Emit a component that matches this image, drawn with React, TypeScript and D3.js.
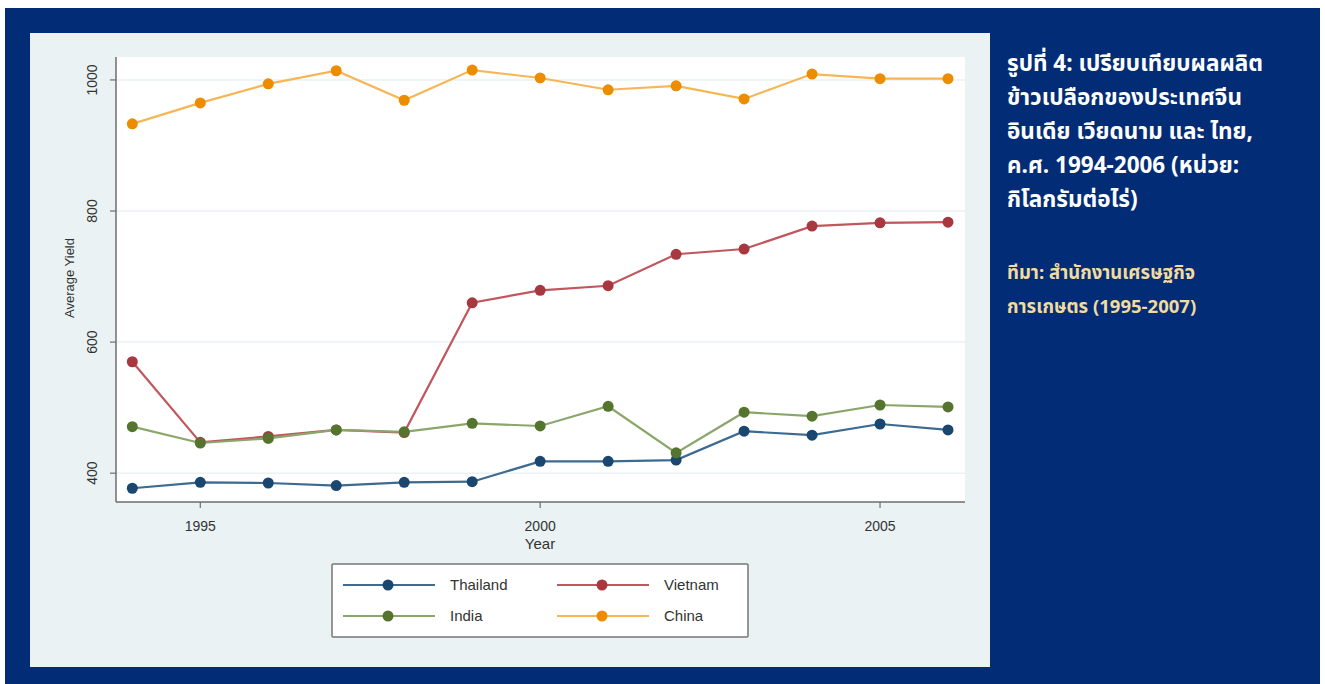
import React, { useEffect } from 'react';
import * as d3 from 'd3';

// values (kg per rai)
const years = [1994, 1995, 1996, 1997, 1998, 1999, 2000, 2001, 2002, 2003, 2004, 2005, 2006];
const thailand = [377, 386, 385, 381, 386, 387, 418, 418, 420, 464, 458, 475, 466];
const vietnam = [570, 447, 456, 466, 462, 660, 679, 686, 734, 742, 777, 782, 783];
const india = [471, 446, 453, 466, 463, 476, 472, 502, 431, 493, 487, 504, 501];
const china = [933, 965, 994, 1014, 969, 1015, 1003, 985, 991, 971, 1009, 1002, 1002];

const yTicks = [400, 600, 800, 1000];
const xTicks = [1995, 2000, 2005];

const titleLines = [
  'รูปที่ 4: เปรียบเทียบผลผลิต',
  'ข้าวเปลือกของประเทศจีน',
  'อินเดีย เวียดนาม และ ไทย,',
  'ค.ศ. 1994-2006 (หน่วย:',
  'กิโลกรัมต่อไร่)',
];
const sourceLines = ['ทีมา: สำนักงานเศรษฐกิจ', 'การเกษตร (1995-2007)'];

const series = [
  { name: 'Thailand', values: thailand, color: '#1a476f', line: '#3d6a90' },
  { name: 'Vietnam', values: vietnam, color: '#a8383f', line: '#c0575d' },
  { name: 'India', values: india, color: '#55752f', line: '#8aa66a' },
  { name: 'China', values: china, color: '#ee8c00', line: '#f6b655' },
];

const W = 1325;
const H = 684;
const plot = { left: 116, right: 965, top: 57, bottom: 502 };
const chartFont = '"Liberation Sans", Arial, sans-serif';
const thaiFont = '"Noto Sans Thai", "Noto Sans", "Liberation Sans", sans-serif';

export default function App() {
  useEffect(() => {
    document.body.style.margin = '0';
  }, []);

  const x = d3.scaleLinear().domain([1993.76, 2006.25]).range([plot.left, plot.right]);
  const y = d3.scaleLinear().domain([356, 1035]).range([plot.bottom, plot.top]);

  const line = d3
    .line<number>()
    .x((d, i) => x(years[i]))
    .y(d => y(d));

  // legend layout: two columns, two rows
  const legendCells = series.map((s, i) => ({
    ...s,
    lx: i % 2 === 0 ? 343 : 557,
    ly: i < 2 ? 585 : 616,
  }));

  return (
    <svg width={W} height={H} style={{ display: 'block' }}>
      <rect x={0} y={0} width={W} height={H} fill="#ffffff" />
      <rect x={5} y={8} width={1315} height={676} fill="#022c76" />
      <rect x={30} y={33} width={960} height={634} fill="#eaf2f3" />
      <rect x={plot.left} y={plot.top} width={plot.right - plot.left} height={plot.bottom - plot.top} fill="#ffffff" />

      {/* gridlines */}
      {yTicks.map(t => (
        <line key={t} x1={plot.left} x2={plot.right} y1={y(t)} y2={y(t)} stroke="#eaf2f3" strokeWidth={1.5} />
      ))}

      {/* axes */}
      <line x1={plot.left} x2={plot.left} y1={plot.top} y2={plot.bottom} stroke="#6e6e6e" strokeWidth={1.5} />
      <line x1={plot.left} x2={plot.right} y1={plot.bottom} y2={plot.bottom} stroke="#6e6e6e" strokeWidth={1.5} />
      {yTicks.map(t => (
        <g key={t}>
          <line x1={plot.left - 6} x2={plot.left} y1={y(t)} y2={y(t)} stroke="#6e6e6e" strokeWidth={1.2} />
          <text
            transform={`translate(${97},${y(t)}) rotate(-90)`}
            textAnchor="middle"
            fontFamily={chartFont}
            fontSize={14}
            fill="#333"
          >
            {t}
          </text>
        </g>
      ))}
      {xTicks.map(t => (
        <g key={t}>
          <line x1={x(t)} x2={x(t)} y1={plot.bottom} y2={plot.bottom + 6} stroke="#6e6e6e" strokeWidth={1.2} />
          <text x={x(t)} y={531} textAnchor="middle" fontFamily={chartFont} fontSize={14} fill="#333">
            {t}
          </text>
        </g>
      ))}
      <text x={540} y={549} textAnchor="middle" fontFamily={chartFont} fontSize={15} fill="#333">
        Year
      </text>
      <text
        transform={`translate(${74},${278}) rotate(-90)`}
        textAnchor="middle"
        fontFamily={chartFont}
        fontSize={13}
        fill="#333"
      >
        Average Yield
      </text>

      {/* series */}
      {series.map(s => (
        <g key={s.name}>
          <path d={line(s.values) || ''} fill="none" stroke={s.line} strokeWidth={2.2} />
          {s.values.map((v, i) => (
            <circle key={i} cx={x(years[i])} cy={y(v)} r={5.5} fill={s.color} />
          ))}
        </g>
      ))}

      {/* legend */}
      <rect x={332} y={564} width={416} height={73} fill="#ffffff" stroke="#777" strokeWidth={1.5} rx={1} />
      {legendCells.map(c => (
        <g key={c.name}>
          <line x1={c.lx} x2={c.lx + 92} y1={c.ly} y2={c.ly} stroke={c.line} strokeWidth={2.2} />
          <circle cx={c.lx + 45} cy={c.ly} r={5.5} fill={c.color} />
          <text x={c.lx + 107} y={c.ly + 5} fontFamily={chartFont} fontSize={15} fill="#333">
            {c.name}
          </text>
        </g>
      ))}

      {/* caption */}
      {titleLines.map((t, i) => (
        <text key={i} x={1007} y={71 + i * 34} fontFamily={thaiFont} fontWeight="bold" fontSize={22.5} fill="#ffffff">
          {t}
        </text>
      ))}
      {sourceLines.map((t, i) => (
        <text key={i} x={1007} y={279 + i * 34} fontFamily={thaiFont} fontWeight="bold" fontSize={18.5} fill="#f3dba0">
          {t}
        </text>
      ))}
    </svg>
  );
}
